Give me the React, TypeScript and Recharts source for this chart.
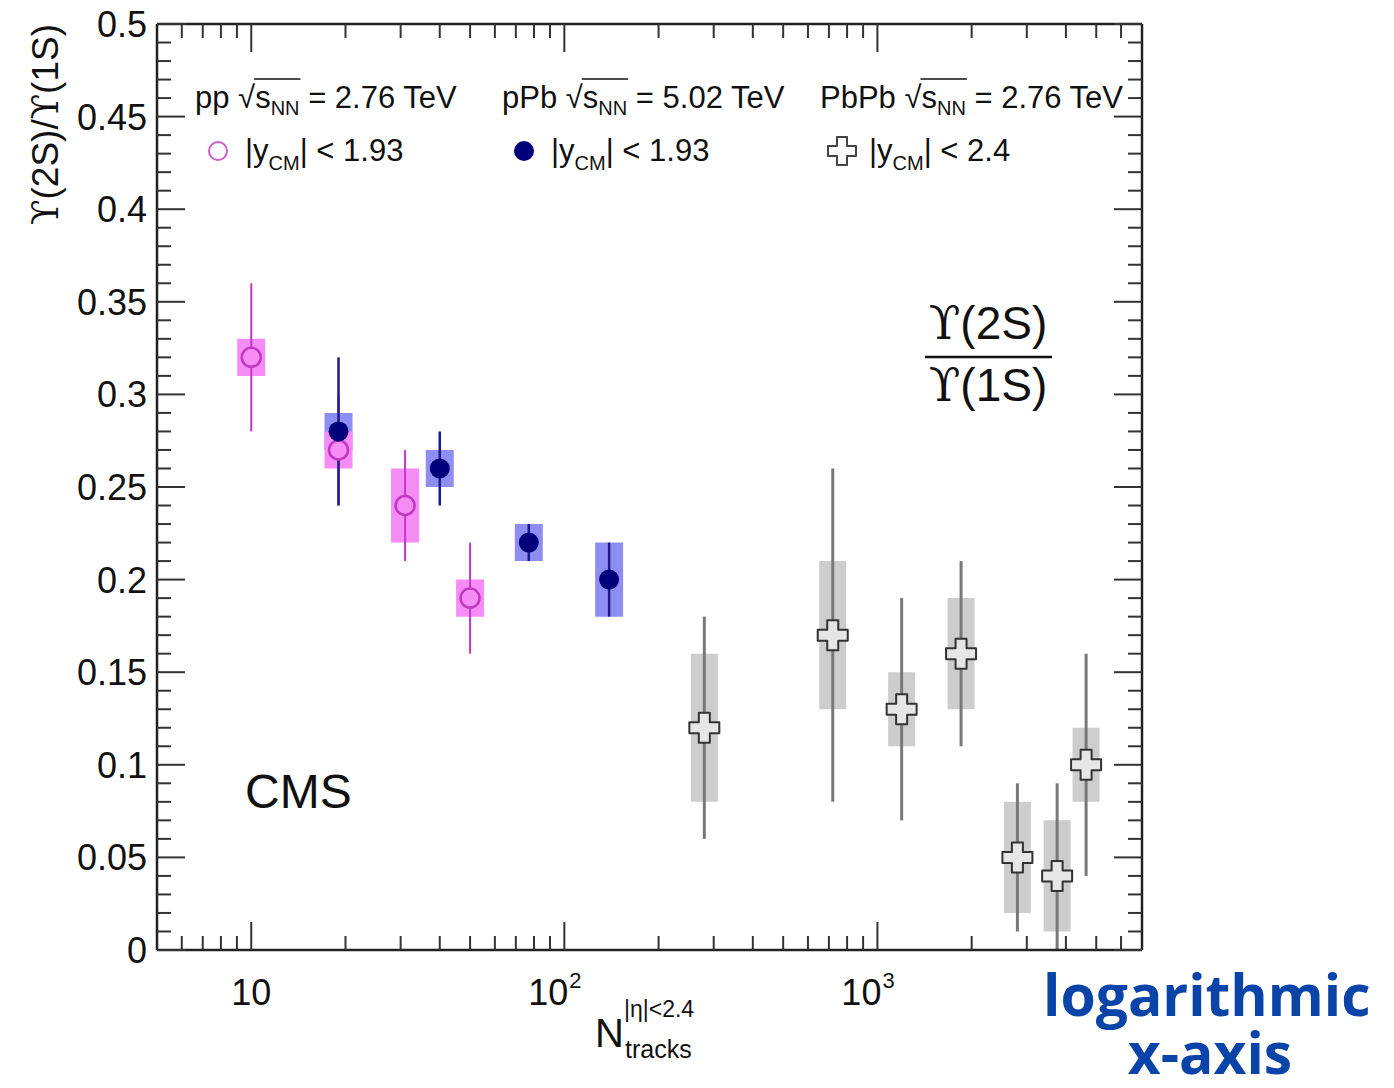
import React from 'react';
import { ComposedChart, Scatter, XAxis, YAxis, ErrorBar } from 'recharts';

// ---------- data: pp sqrt(sNN)=2.76 TeV, |y_CM|<1.93 ----------
const ppX = [10, 19, 31, 50];
const ppY = [0.32, 0.27, 0.24, 0.19];
const ppStatLow = [0.28, 0.24, 0.21, 0.16];
const ppStatHigh = [0.36, 0.30, 0.27, 0.22];
const ppSysLow = [0.31, 0.26, 0.22, 0.18];
const ppSysHigh = [0.33, 0.28, 0.26, 0.20];

// ---------- data: pPb sqrt(sNN)=5.02 TeV, |y_CM|<1.93 ----------
const pPbX = [19, 40, 77, 139];
const pPbY = [0.28, 0.26, 0.22, 0.20];
const pPbStatLow = [0.24, 0.24, 0.21, 0.18];
const pPbStatHigh = [0.32, 0.28, 0.23, 0.22];
const pPbSysLow = [0.27, 0.25, 0.21, 0.18];
const pPbSysHigh = [0.29, 0.27, 0.23, 0.22];

// ---------- data: PbPb sqrt(sNN)=2.76 TeV, |y_CM|<2.4 ----------
const PbPbX = [280, 720, 1195, 1850, 2800, 3750, 4640];
const PbPbY = [0.12, 0.17, 0.13, 0.16, 0.05, 0.04, 0.10];
const PbPbStatLow = [0.06, 0.08, 0.07, 0.11, 0.01, 0.0, 0.04];
const PbPbStatHigh = [0.18, 0.26, 0.19, 0.21, 0.09, 0.09, 0.16];
const PbPbSysLow = [0.08, 0.13, 0.11, 0.13, 0.02, 0.01, 0.08];
const PbPbSysHigh = [0.16, 0.21, 0.15, 0.19, 0.08, 0.07, 0.12];

// ---------- axes ----------
const xDomain = [5, 7000];
const yDomain = [0, 0.5];
const xMajorTicks = [10, 100, 1000];
const xMajorBase = ['10', '10', '10'];
const xMajorExp = ['', '2', '3'];
const xMinorTicks = [6, 7, 8, 9, 20, 30, 40, 50, 60, 70, 80, 90, 200, 300, 400, 500, 600, 700, 800, 900, 2000, 3000, 4000, 5000, 6000];
const yMajorTicks = [0, 0.05, 0.1, 0.15, 0.2, 0.25, 0.3, 0.35, 0.4, 0.45, 0.5];
const yTickLabels = ['0', '0.05', '0.1', '0.15', '0.2', '0.25', '0.3', '0.35', '0.4', '0.45', '0.5'];
const yMinorTicks = [
  0.01, 0.02, 0.03, 0.04, 0.06, 0.07, 0.08, 0.09, 0.11, 0.12, 0.13, 0.14, 0.16, 0.17, 0.18, 0.19,
  0.21, 0.22, 0.23, 0.24, 0.26, 0.27, 0.28, 0.29, 0.31, 0.32, 0.33, 0.34, 0.36, 0.37, 0.38, 0.39,
  0.41, 0.42, 0.43, 0.44, 0.46, 0.47, 0.48, 0.49,
];

const buildRows = (x: number[], y: number[], sl: number[], sh: number[], yl: number[], yh: number[]) =>
  x.map((v, i) => ({
    x: v,
    y: y[i],
    stat: [y[i] - sl[i], sh[i] - y[i]],
    sys: [y[i] - yl[i], yh[i] - y[i]],
  }));

const ppRows = buildRows(ppX, ppY, ppStatLow, ppStatHigh, ppSysLow, ppSysHigh);
const pPbRows = buildRows(pPbX, pPbY, pPbStatLow, pPbStatHigh, pPbSysLow, pPbSysHigh);
const PbPbRows = buildRows(PbPbX, PbPbY, PbPbStatLow, PbPbStatHigh, PbPbSysLow, PbPbSysHigh);

const allX = [...xMinorTicks, ...xMajorTicks].sort((a, b) => a - b);
const allY = [...yMinorTicks, ...yMajorTicks].sort((a, b) => a - b);

// ---------- style ----------
const FONT = '"Liberation Sans", Arial, Helvetica, sans-serif';
const UPS_FONT = '"DejaVu Serif", "Liberation Serif", serif';
const AXIS = '#222';
const TICK = '#333';
const MAJ = 28;
const MIN = 14;

const PP_BOX = '#f78cf7';
const PP_LINE = '#c03ac0';
const PPB_BOX = '#8e8ef2';
const PPB_LINE = '#1a1a8c';
const PPB_MARK = '#00007a';
const PBPB_BOX = '#cdcdcd';
const PBPB_LINE = '#787878';

const isMajorX = (v: number) => xMajorTicks.indexOf(v) >= 0;
const isMajorY = (v: number) => yMajorTicks.some((m) => Math.abs(m - v) < 1e-9);

const XTickBottom = (p: any) => {
  const v = p.payload.value;
  const major = isMajorX(v);
  const idx = xMajorTicks.indexOf(v);
  return (
    <g>
      <line x1={p.x} x2={p.x} y1={p.y} y2={p.y - (major ? MAJ : MIN)} stroke={TICK} strokeWidth={2} />
      {major && xMajorExp[idx] === '' && (
        <text x={p.x} y={p.y + 55} textAnchor="middle" fontSize={36} fontFamily={FONT} fill="#111">
          {xMajorBase[idx]}
        </text>
      )}
      {major && xMajorExp[idx] !== '' && (
        <g>
          <text x={p.x + 4} y={p.y + 55} textAnchor="end" fontSize={36} fontFamily={FONT} fill="#111">
            {xMajorBase[idx]}
          </text>
          <text x={p.x + 5} y={p.y + 38} textAnchor="start" fontSize={22} fontFamily={FONT} fill="#111">
            {xMajorExp[idx]}
          </text>
        </g>
      )}
    </g>
  );
};

const XTickTop = (p: any) => {
  const v = p.payload.value;
  const major = isMajorX(v);
  return <line x1={p.x} x2={p.x} y1={p.y} y2={p.y + (major ? MAJ : MIN)} stroke={TICK} strokeWidth={2} />;
};

const YTickLeft = (p: any) => {
  const v = p.payload.value;
  const major = isMajorY(v);
  const idx = yMajorTicks.findIndex((m) => Math.abs(m - v) < 1e-9);
  return (
    <g>
      <line x1={p.x} x2={p.x + (major ? MAJ : MIN)} y1={p.y} y2={p.y} stroke={TICK} strokeWidth={2} />
      {major && (
        <text x={p.x - 10} y={p.y + 13} textAnchor="end" fontSize={36} fontFamily={FONT} fill="#111">
          {yTickLabels[idx]}
        </text>
      )}
    </g>
  );
};

const YTickRight = (p: any) => {
  const v = p.payload.value;
  const major = isMajorY(v);
  return <line x1={p.x} x2={p.x - (major ? MAJ : MIN)} y1={p.y} y2={p.y} stroke={TICK} strokeWidth={2} />;
};

const Empty = () => <g />;

const ppMarker = (p: any) => (
  <circle cx={p.cx} cy={p.cy} r={9.5} fill={PP_BOX} stroke={PP_LINE} strokeWidth={2.5} />
);
const pPbMarker = (p: any) => <circle cx={p.cx} cy={p.cy} r={10} fill={PPB_MARK} />;

const crossPath = (cx: number, cy: number, s: number, a: number) =>
  `M${cx - a},${cy - s} L${cx + a},${cy - s} L${cx + a},${cy - a} L${cx + s},${cy - a} L${cx + s},${cy + a} L${cx + a},${cy + a} L${cx + a},${cy + s} L${cx - a},${cy + s} L${cx - a},${cy + a} L${cx - s},${cy + a} L${cx - s},${cy - a} L${cx - a},${cy - a} Z`;

const PbPbMarker = (p: any) => (
  <path d={crossPath(p.cx, p.cy, 15, 5.5)} fill="#e6e6e6" stroke="#333" strokeWidth={2} strokeLinejoin="round" />
);

// legend header: "<prefix> √s_NN = <energy> TeV"
const EM = 31;
const Header = ({ x, y, prefix, prefixEm, energy }: any) => {
  const sqrtStart = x + prefixEm * EM;
  const sqrtEnd = sqrtStart + 0.549 * EM;
  const nnEnd = sqrtEnd + 0.5 * EM + 0.722 * 2 * 20;
  return (
    <g>
      <text x={x} y={y} fontSize={EM} fontFamily={FONT} fill="#111">
        <tspan>{prefix} √</tspan>
        <tspan>s</tspan>
        <tspan dy={7} fontSize={20}>NN</tspan>
        <tspan dy={-7}> = {energy} TeV</tspan>
      </text>
      <line x1={sqrtEnd - 1} x2={nnEnd + 1} y1={y - 29} y2={y - 29} stroke="#111" strokeWidth={1.6} />
    </g>
  );
};

const RapText = ({ x, y, cut }: any) => (
  <text x={x} y={y} fontSize={EM} fontFamily={FONT} fill="#111">
    <tspan>|y</tspan>
    <tspan dy={9} fontSize={20}>CM</tspan>
    <tspan dy={-9}>| &lt; {cut}</tspan>
  </text>
);

const Overlay = () => (
  <svg width={1394} height={1088} style={{ position: 'absolute', left: 0, top: 0, pointerEvents: 'none' }}>
    {/* y-axis title */}
    <text transform="translate(58,24) rotate(-90)" textAnchor="end" fontSize={37} fontFamily={FONT} fill="#111">
      <tspan fontFamily={UPS_FONT}>ϒ</tspan>
      <tspan>(2S)/</tspan>
      <tspan fontFamily={UPS_FONT}>ϒ</tspan>
      <tspan>(1S)</tspan>
    </text>

    {/* legend */}
    <Header x={195} y={108} prefix="pp" prefixEm={1.39} energy="2.76" />
    <Header x={502} y={108} prefix="pPb" prefixEm={2.057} energy="5.02" />
    <Header x={820} y={108} prefix="PbPb" prefixEm={2.724} energy="2.76" />

    <circle cx={218} cy={151} r={9} fill="none" stroke="#cf5ccf" strokeWidth={2} />
    <RapText x={245} y={161} cut="1.93" />
    <circle cx={524} cy={151} r={10} fill={PPB_MARK} />
    <RapText x={551} y={161} cut="1.93" />
    <path d={crossPath(842, 151, 14, 5)} fill="#fff" stroke="#444" strokeWidth={2} strokeLinejoin="round" />
    <RapText x={869} y={161} cut="2.4" />

    {/* CMS */}
    <text x={245} y={808} fontSize={48} fontFamily={FONT} fill="#111">CMS</text>

    {/* ratio fraction */}
    <text x={988} y={339} textAnchor="middle" fontSize={46} fontFamily={FONT} fill="#111">
      <tspan fontFamily={UPS_FONT}>ϒ</tspan>
      <tspan>(2S)</tspan>
    </text>
    <line x1={925} x2={1052} y1={357} y2={357} stroke="#111" strokeWidth={2.5} />
    <text x={988} y={401} textAnchor="middle" fontSize={46} fontFamily={FONT} fill="#111">
      <tspan fontFamily={UPS_FONT}>ϒ</tspan>
      <tspan>(1S)</tspan>
    </text>

    {/* x-axis title */}
    <text x={595} y={1047} fontSize={40} fontFamily={FONT} fill="#111">N</text>
    <text x={624} y={1017} fontSize={23} fontFamily={FONT} fill="#111">|η|&lt;2.4</text>
    <text x={625} y={1058} fontSize={25} fontFamily={FONT} fill="#111">tracks</text>

    {/* annotation */}
    <text x={1043} y={1016} fontSize={57} fontWeight="bold" fontFamily='"Open Sans", sans-serif' fill="#0a44a8">
      logarithmic
    </text>
    <text x={1210} y={1074} textAnchor="middle" fontSize={57} fontWeight="bold" fontFamily='"Open Sans", sans-serif' fill="#0a44a8">
      x-axis
    </text>
  </svg>
);

export default function App() {
  const common = { xAxisId: 'b', yAxisId: 'l', isAnimationActive: false, legendType: 'none' as const };
  return (
    <div style={{ position: 'absolute', left: 0, top: 0, width: 1394, height: 1088, background: '#fff' }}>
      <ComposedChart width={1394} height={1088} margin={{ top: 0, left: 0, right: 250, bottom: 0 }}>
        <XAxis
          xAxisId="b"
          orientation="bottom"
          dataKey="x"
          type="number"
          scale="log"
          domain={xDomain}
          allowDataOverflow
          ticks={allX}
          interval={0}
          tickSize={0}
          tickMargin={0}
          tickLine={false}
          height={138}
          axisLine={{ stroke: AXIS, strokeWidth: 2.5 }}
          tick={XTickBottom}
        />
        <XAxis
          xAxisId="t"
          orientation="top"
          dataKey="x"
          type="number"
          scale="log"
          domain={xDomain}
          allowDataOverflow
          ticks={allX}
          interval={0}
          tickSize={0}
          tickMargin={0}
          tickLine={false}
          height={24}
          axisLine={{ stroke: AXIS, strokeWidth: 2.5 }}
          tick={XTickTop}
        />
        <YAxis
          yAxisId="l"
          orientation="left"
          dataKey="y"
          type="number"
          domain={yDomain}
          allowDataOverflow
          ticks={allY}
          interval={0}
          tickSize={0}
          tickMargin={0}
          tickLine={false}
          width={157}
          axisLine={{ stroke: AXIS, strokeWidth: 2.5 }}
          tick={YTickLeft}
        />
        <YAxis
          yAxisId="r"
          orientation="right"
          dataKey="y"
          type="number"
          domain={yDomain}
          allowDataOverflow
          ticks={allY}
          interval={0}
          tickSize={0}
          tickMargin={0}
          tickLine={false}
          width={2}
          axisLine={{ stroke: AXIS, strokeWidth: 2.5 }}
          tick={YTickRight}
        />

        {/* systematic boxes */}
        <Scatter {...common} data={pPbRows} shape={Empty}>
          <ErrorBar dataKey="sys" direction="y" width={0} stroke={PPB_BOX} strokeWidth={28} isAnimationActive={false} />
        </Scatter>
        <Scatter {...common} data={ppRows} shape={Empty}>
          <ErrorBar dataKey="sys" direction="y" width={0} stroke={PP_BOX} strokeWidth={28} isAnimationActive={false} />
        </Scatter>
        <Scatter {...common} data={PbPbRows} shape={Empty}>
          <ErrorBar dataKey="sys" direction="y" width={0} stroke={PBPB_BOX} strokeWidth={27} isAnimationActive={false} />
        </Scatter>

        {/* statistical bars and markers */}
        <Scatter {...common} data={ppRows} shape={Empty}>
          <ErrorBar dataKey="stat" direction="y" width={0} stroke={PP_LINE} strokeWidth={2} isAnimationActive={false} />
        </Scatter>
        <Scatter {...common} data={ppRows} shape={ppMarker} />
        <Scatter {...common} data={pPbRows} shape={Empty}>
          <ErrorBar dataKey="stat" direction="y" width={0} stroke={PPB_LINE} strokeWidth={2.5} isAnimationActive={false} />
        </Scatter>
        <Scatter {...common} data={pPbRows} shape={pPbMarker} />
        <Scatter {...common} data={PbPbRows} shape={Empty}>
          <ErrorBar dataKey="stat" direction="y" width={0} stroke={PBPB_LINE} strokeWidth={3} isAnimationActive={false} />
        </Scatter>
        <Scatter {...common} data={PbPbRows} shape={PbPbMarker} />
      </ComposedChart>
      <Overlay />
    </div>
  );
}
